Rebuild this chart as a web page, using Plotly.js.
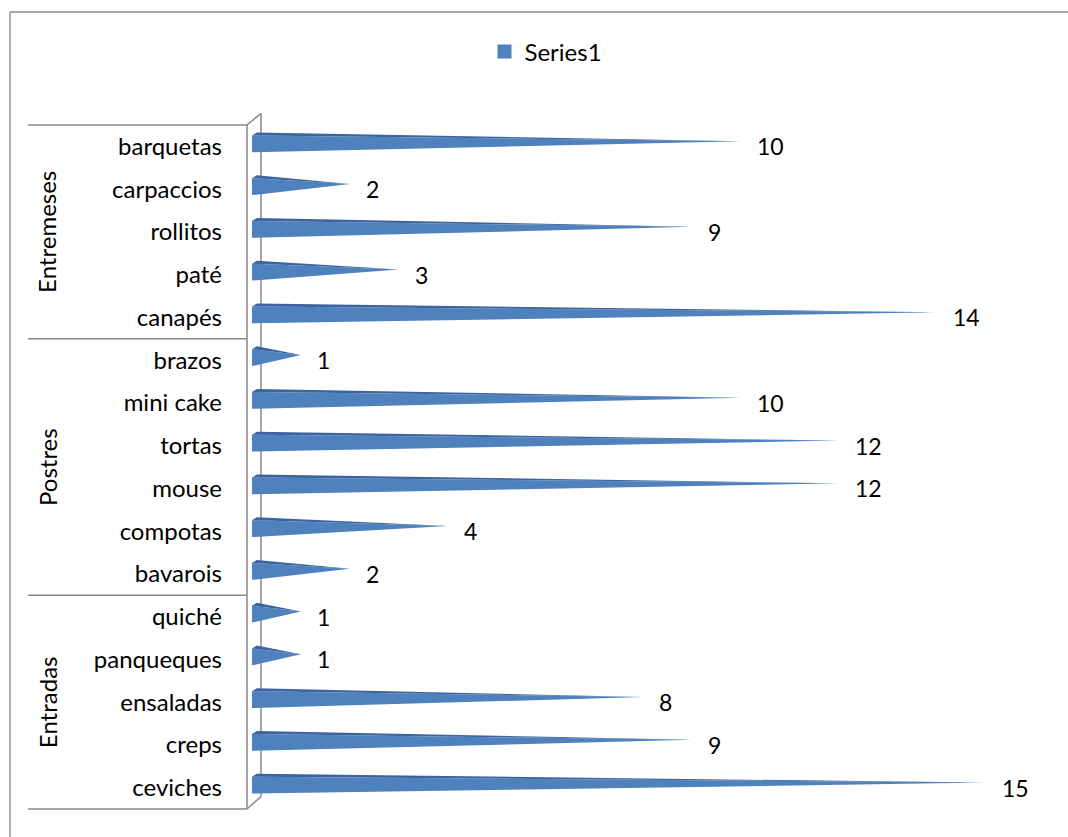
<!DOCTYPE html>
<html>
<head>
<meta charset="utf-8">
<script src="https://cdn.plot.ly/plotly-3.0.1.min.js"></script>
<style>html,body{margin:0;padding:0;background:#fff;}#chart{width:1068px;height:837px;}</style>
</head>
<body>
<div id="chart"></div>
<script>
// ---- data (top to bottom, as in the picture) ----
const categories = ["barquetas","carpaccios","rollitos","paté","canapés",
                    "brazos","mini cake","tortas","mouse","compotas","bavarois",
                    "quiché","panqueques","ensaladas","creps","ceviches"];
const values = [10, 2, 9, 3, 14, 1, 10, 12, 12, 4, 2, 1, 1, 8, 9, 15];
const groups = ["Entremeses","Postres","Entradas"];
const groupSizes = [5, 6, 5];
const seriesName = "Series1";

// ---- style ----
const FONT = "Lato, 'Noto Sans', sans-serif";
const FS = 24;
const FRONT = "#4f81bd";
const TOP = "#3b64a0";

// cone geometry offsets (in category units, relative to category centre)
const oFrontTop = -0.257, oBottom = 0.14, oTopBack = -0.327, oTip = -0.117, dxBack = 0.1;

const fx = [], fy = [], tx = [], ty = [];
values.forEach((v, i) => {
  fx.push(0, v, 0, 0, null);
  fy.push(i + oFrontTop, i + oTip, i + oBottom, i + oFrontTop, null);
  tx.push(0, dxBack, v, 0, null);
  ty.push(i + oFrontTop, i + oTopBack, i + oTip, i + oFrontTop, null);
});

const idx = categories.map((c, i) => i);

const traces = [
  {type: "scatter", mode: "lines", x: fx, y: fy, fill: "toself", fillcolor: FRONT,
   line: {width: 0, color: FRONT}, hoverinfo: "skip", showlegend: false},
  {type: "scatter", mode: "lines", x: tx, y: ty, fill: "toself", fillcolor: TOP,
   line: {width: 0, color: TOP}, hoverinfo: "skip", showlegend: false},
  {type: "scatter", mode: "markers", x: [null], y: [null], name: seriesName,
   marker: {symbol: "square", size: 14, color: FRONT}, showlegend: true}
];

// layout helpers
const L = 247, R = 20, T = 125, B = 28, W = 1068 - L - R, H = 837 - T - B;
const nCat = categories.length;
const px = X => (X - L) / W;
const py = Y => (837 - B - Y) / H;
const pyCat = i => (nCat - 0.5 - i) / nCat;

const GRAY = "#898989";
const shapes = [];
// outer frame
shapes.push({type: "line", xref: "paper", yref: "paper", x0: px(10), x1: px(1075), y0: py(12), y1: py(12), line: {color: GRAY, width: 1.3}});
shapes.push({type: "line", xref: "paper", yref: "paper", x0: px(10), x1: px(10), y0: py(12), y1: py(845), line: {color: GRAY, width: 1.3}});
// wall: front and back vertical lines and diagonals
const backX = px(261);
shapes.push({type: "line", xref: "paper", yref: "paper", x0: 0, x1: 0, y0: pyCat(-0.5), y1: pyCat(nCat - 0.5), line: {color: GRAY, width: 1.5}});
shapes.push({type: "line", xref: "paper", yref: "paper", x0: backX, x1: backX, y0: pyCat(-0.771), y1: pyCat(nCat - 0.79), line: {color: GRAY, width: 1.5}, layer: "below"});
shapes.push({type: "line", xref: "paper", yref: "paper", x0: 0, x1: backX, y0: pyCat(-0.5), y1: pyCat(-0.771), line: {color: GRAY, width: 1.5}});
shapes.push({type: "line", xref: "paper", yref: "paper", x0: 0, x1: backX, y0: pyCat(nCat - 0.5), y1: pyCat(nCat - 0.79), line: {color: GRAY, width: 1.5}});

const annotations = [];
let start = 0;
groups.forEach((g, k) => {
  const n = groupSizes[k];
  // divider above group
  shapes.push({type: "line", xref: "paper", yref: "paper", x0: px(28), x1: 0, y0: pyCat(start - 0.5), y1: pyCat(start - 0.5), line: {color: GRAY, width: 1.3}});
  annotations.push({xref: "paper", yref: "paper", x: px(47), y: pyCat(start + (n - 1) / 2), text: g, textangle: -90,
    showarrow: false, xanchor: "center", yanchor: "middle", font: {family: FONT, size: FS, color: "#000"}});
  start += n;
});
shapes.push({type: "line", xref: "paper", yref: "paper", x0: px(28), x1: 0, y0: pyCat(nCat - 0.5), y1: pyCat(nCat - 0.5), line: {color: GRAY, width: 1.3}});

values.forEach((v, i) => {
  annotations.push({x: v, y: i, xref: "x", yref: "y", text: String(v), showarrow: false,
    xanchor: "left", yanchor: "middle", xshift: 14, font: {family: FONT, size: 23, color: "#000"}});
});

const unitPx = 48.9;
const x0 = -(252 - L) / unitPx;
const layout = {
  width: 1068, height: 837,
  margin: {l: L, r: R, t: T, b: B, pad: 0},
  paper_bgcolor: "#fff", plot_bgcolor: "rgba(0,0,0,0)",
  font: {family: FONT, size: FS, color: "#000"},
  showlegend: true,
  legend: {orientation: "h", x: px(546), y: py(52), xanchor: "center", yanchor: "middle",
    font: {family: FONT, size: FS, color: "#000"}, bgcolor: "rgba(0,0,0,0)", itemwidth: 30},
  xaxis: {range: [x0, x0 + W / unitPx], showgrid: false, zeroline: false, showticklabels: false,
    showline: false, ticks: "", fixedrange: true},
  yaxis: {range: [nCat - 0.5, -0.5], tickmode: "array", tickvals: idx, ticktext: categories,
    showgrid: false, zeroline: false, showline: false, ticks: "", ticklabelstandoff: 24,
    tickfont: {family: FONT, size: FS, color: "#000"}, fixedrange: true},
  shapes: shapes,
  annotations: annotations
};

Plotly.newPlot("chart", traces, layout, {staticPlot: true, displayModeBar: false});
</script>
</body>
</html>
